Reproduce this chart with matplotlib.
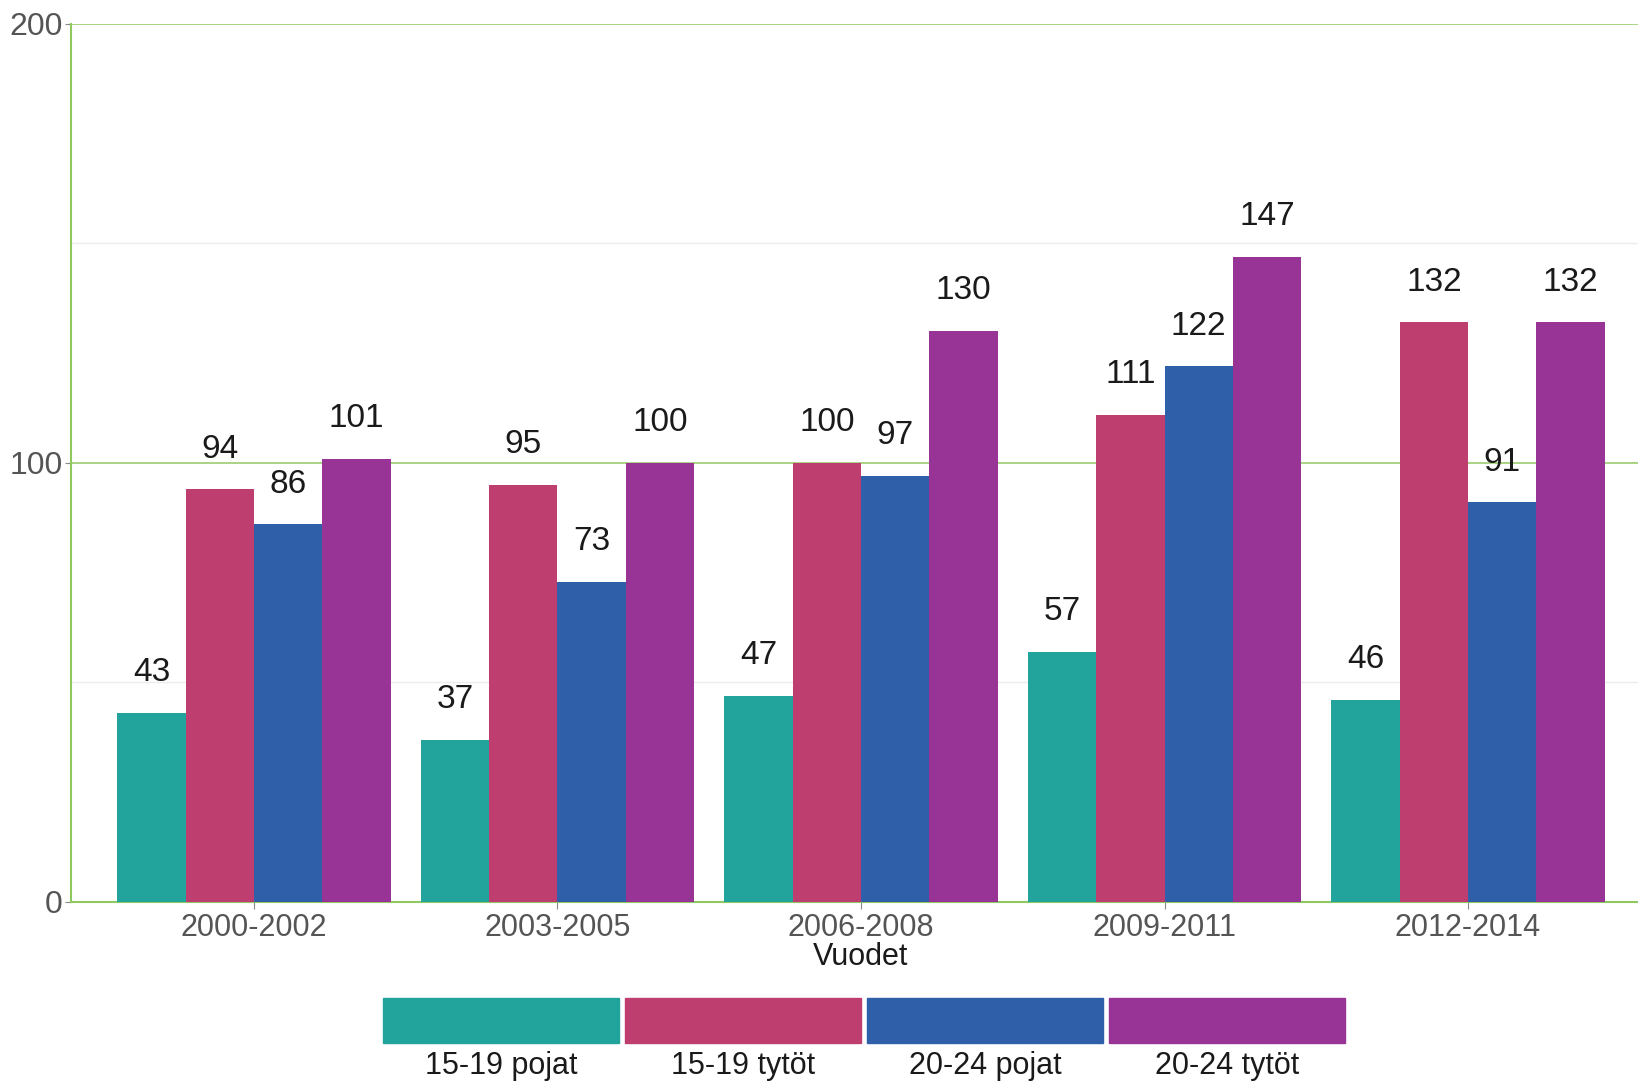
import numpy as np
import matplotlib.pyplot as plt
from matplotlib.patches import Rectangle

plt.rcParams["font.family"] = ["Liberation Sans", "DejaVu Sans"]

periods = ["2000-2002", "2003-2005", "2006-2008", "2009-2011", "2012-2014"]
groups = ["15-19 pojat", "15-19 tytöt", "20-24 pojat", "20-24 tytöt"]
pojat_15_19 = [43, 37, 47, 57, 46]
tytot_15_19 = [94, 95, 100, 111, 132]
pojat_20_24 = [86, 73, 97, 122, 91]
tytot_20_24 = [101, 100, 130, 147, 132]
colors = ["#22a39b", "#be3e6f", "#2f5fa9", "#973495"]


def main():
    series = [pojat_15_19, tytot_15_19, pojat_20_24, tytot_20_24]
    fig = plt.figure(figsize=(16.38, 10.84), dpi=100)
    ax = fig.add_axes([0.0433, 0.1679, 0.9567, 0.81])

    x = np.arange(len(periods))
    w = 0.225
    for i, (vals, c) in enumerate(zip(series, colors)):
        pos = x + (i - 1.5) * w
        ax.bar(pos, vals, width=w, color=c, zorder=3)
        for px, v in zip(pos, vals):
            ax.annotate(str(v), (px, v), xytext=(0, 29), textcoords="offset points",
                        ha="center", va="center", fontsize=24, color="#1a1a1a")

    ax.set_xlim(-0.603, 4.56)
    ax.set_ylim(0, 200)
    ax.set_yticks([0, 100, 200])
    ax.set_yticks([50, 150], minor=True)
    ax.grid(axis="y", which="major", color="#9ccc6e", linewidth=1.2, zorder=0)
    ax.grid(axis="y", which="minor", color="#ececec", linewidth=1.0, zorder=0)
    ax.tick_params(axis="y", which="minor", length=0)
    ax.tick_params(axis="y", which="major", labelsize=23, labelcolor="#555555",
                   color="#888888", length=4, pad=2)
    ax.set_xticks(x)
    ax.set_xticklabels(periods)
    ax.tick_params(axis="x", labelsize=22, labelcolor="#555555", color="#888888",
                   length=5, pad=3)
    for s in ["top", "right"]:
        ax.spines[s].set_visible(False)
    ax.spines["left"].set_color("#8fc860")
    ax.spines["bottom"].set_color("#8fc860")
    ax.spines["left"].set_linewidth(1.5)
    ax.spines["bottom"].set_linewidth(1.5)
    fig.text(861 / 1638, 1 - 957 / 1084, "Vuodet", ha="center", va="center",
             fontsize=22, color="#1a1a1a")

    # legend strip below the chart
    x0 = 383 / 1638
    pw = 236 / 1638
    gap = 6 / 1638
    for i, (lab, c) in enumerate(zip(groups, colors)):
        left = x0 + i * (pw + gap)
        fig.patches.append(Rectangle((left, 1 - 1043 / 1084), pw, 45 / 1084,
                                     transform=fig.transFigure, color=c))
        fig.text(left + pw / 2, 1 - 1066 / 1084, lab, ha="center", va="center",
                 fontsize=22, color="#1a1a1a")

    fig.savefig("out.png")


if __name__ == "__main__":
    main()
